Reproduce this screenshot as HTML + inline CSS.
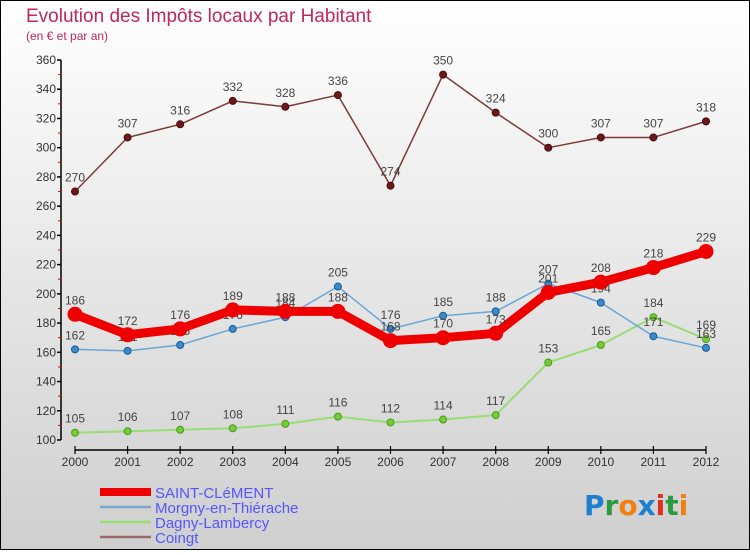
<!DOCTYPE html>
<html><head><meta charset="utf-8"><style>
html,body{margin:0;padding:0}
body{width:750px;height:550px;overflow:hidden;font-family:"Liberation Sans",sans-serif}
</style></head><body>
<svg id="chart" width="750" height="550" viewBox="0 0 750 550" xmlns="http://www.w3.org/2000/svg">
<defs><linearGradient id="bg" x1="0" y1="0" x2="0" y2="1"><stop offset="0" stop-color="#ffffff"/><stop offset="1" stop-color="#cfcfcf"/></linearGradient></defs>
<rect x="0.5" y="0.5" width="749" height="549" fill="url(#bg)" stroke="#000"/>
<text x="26" y="22" font-size="19" fill="#c0285a" font-family="Liberation Sans, sans-serif">Evolution des Impôts locaux par Habitant</text>
<text x="26" y="40" font-size="12" fill="#c0285a">(en € et par an)</text>
<g id="axes"></g><g id="series"></g><g id="legend"></g>
<text x="584" y="515" font-size="28" font-weight="bold" font-family="DejaVu Sans, sans-serif"><tspan fill="#1e7fd0">P</tspan><tspan fill="#2a9a3a">r</tspan><tspan fill="#f08010">o</tspan><tspan fill="#1e7fd0">x</tspan><tspan fill="#e03020">i</tspan><tspan fill="#2a9a3a">t</tspan><tspan fill="#f08010">i</tspan></text>
</svg>
<script>
const years=[2000,2001,2002,2003,2004,2005,2006,2007,2008,2009,2010,2011,2012];
const saintClement=[186,172,176,189,188,188,168,170,173,201,208,218,229];
const morgny=[162,161,165,176,184,205,176,185,188,207,194,171,163];
const dagny=[105,106,107,108,111,116,112,114,117,153,165,184,169];
const coingt=[270,307,316,332,328,336,274,350,324,300,307,307,318];
const yTicks=[100,120,140,160,180,200,220,240,260,280,300,320,340,360];
const seriesNames=["SAINT-CLéMENT","Morgny-en-Thiérache","Dagny-Lambercy","Coingt"];

const NS="http://www.w3.org/2000/svg";
const x0=75,x1=706,yTop=60,yBot=440,vMin=100,vMax=360;
const xs=i=>x0+(x1-x0)*i/(years.length-1);
const ys=v=>yBot-(v-vMin)*(yBot-yTop)/(vMax-vMin);
function mk(tag,attrs,parent){const e=document.createElementNS(NS,tag);for(const k in attrs)e.setAttribute(k,attrs[k]);parent.appendChild(e);return e;}
const axes=document.getElementById('axes');
let yl=mk('line',{x1:61,y1:yTop,x2:61,y2:yBot,stroke:'#000','stroke-width':1.5},axes);


yTicks.forEach((v,i)=>{
  let t=mk('line',{x1:57,y1:ys(v),x2:61,y2:ys(v),stroke:'#000','stroke-width':1.5},axes);
  
  
  if(i<yTicks.length-1){let m=mk('line',{x1:58,y1:ys(v+10),x2:61,y2:ys(v+10),stroke:'#e00','stroke-width':1},axes);
    
    }
  let l=mk('text',{x:56,y:ys(v)+4,'text-anchor':'end','font-size':12,fill:'#333'},axes);l.textContent=v;
  
  
});
let xl=mk('line',{x1:x0,y1:450,x2:x1,y2:450,stroke:'#000','stroke-width':1.5},axes);


years.forEach((y,i)=>{
  let t=mk('line',{x1:xs(i),y1:446,x2:xs(i),y2:454,stroke:'#000','stroke-width':1.2},axes);
  
  
  let l=mk('text',{x:xs(i),y:466,'text-anchor':'middle','font-size':12,fill:'#333'},axes);l.textContent=y;
  
  
});
const sg=document.getElementById('series');
function drawSeries(data,name,color,lw,r,dot,dotStroke){
  const g=mk('g',{},sg);
  
  
  const p=mk('polyline',{points:data.map((v,i)=>xs(i)+','+ys(v)).join(' '),fill:'none',stroke:color,'stroke-width':lw,'stroke-linejoin':'round'},g);
  
  
  data.forEach((v,i)=>{
    const c=mk('circle',{cx:xs(i),cy:ys(v),r:r,fill:dot,stroke:dotStroke,'stroke-width':1},g);
    
    
    const t=mk('text',{x:xs(i),y:ys(v)-10,'text-anchor':'middle','font-size':12,fill:'#444'},g);t.textContent=v;
    
    
  });
}
drawSeries(coingt,'coingt','#7a3a3a',1.5,3.5,'#6a1a1a','#4a0a0a');
drawSeries(dagny,'dagny-lambercy','#99dd77',2,3.5,'#77cc33','#4a9a20');
drawSeries(morgny,'morgny-en-thierache','#6aa6d6',1.5,3.5,'#3a8ad0','#1a5a90');
drawSeries(saintClement,'saint-clement','#ee0000',9,7,'#ee0000','#ee0000');
const lg=document.getElementById('legend');
const lcols=['#ee0000','#7aa6cc','#99dd77','#9a6a6a'];
const lw=[8,2.5,2.5,2.5];
seriesNames.forEach((n,i)=>{
  const y=492+i*15;
  const ln=mk('line',{x1:100,y1:y,x2:151,y2:y,stroke:lcols[i],'stroke-width':lw[i]},lg);
  
  
  const t=mk('text',{x:155,y:y+6,'font-size':15,fill:'#5555ff'},lg);t.textContent=n;
  
  
});
</script>
</body></html>
